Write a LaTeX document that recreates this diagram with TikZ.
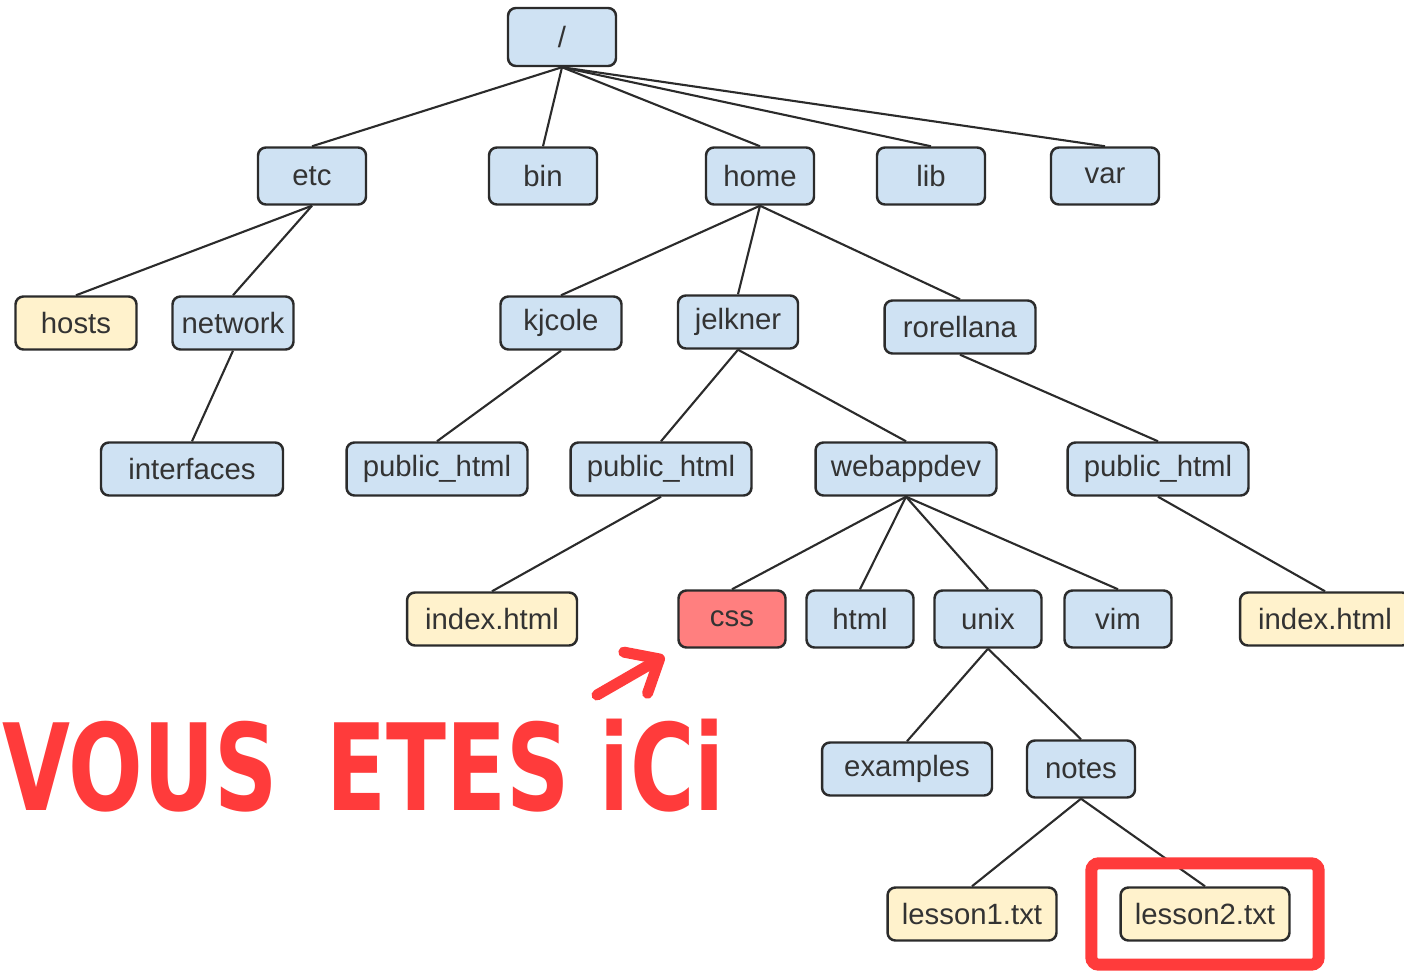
\documentclass[tikz,border=0pt]{standalone}
\usepackage{fontspec}
\setmainfont{Liberation Sans}
\newfontfamily\herefont[FakeStretch=0.73]{DejaVu Sans}
\usetikzlibrary{arrows.meta}
\usetikzlibrary{fit}
\definecolor{folderblue}{HTML}{CFE2F3}
\definecolor{fileyellow}{HTML}{FFF2CC}
\definecolor{cssred}{HTML}{FF7F7F}
\definecolor{herered}{HTML}{FF3B3B}
\definecolor{boxline}{HTML}{2B2B2B}
\tikzset{box/.style={draw=boxline, line width=1.4pt, rounded corners=4.5pt,
    minimum height=1.06cm, inner sep=0pt, text=black!80,
    font=\fontsize{16.7}{20}\selectfont}}
\tikzset{folder/.style={box, fill=folderblue}}
\tikzset{file/.style={box, fill=fileyellow}}
\tikzset{link/.style={draw=boxline, line width=1.2pt}}
\tikzset{herearrow/.style={draw=herered, line width=0.22cm, line cap=round,
    shorten >=0.3cm, -{Straight Barb[length=0.55cm,width=0.95cm,round]}}}
\tikzset{herebox/.style={draw=herered, line width=0.24cm, rounded corners=0.15cm,
    inner xsep=0.56cm, inner ysep=0.46cm}}

\begin{document}
\begin{tikzpicture}[x=0.02cm,y=-0.02cm]
        \useasboundingbox (0,0) rectangle (1404,977);

        \node[folder, minimum width=2.16cm, minimum height=1.16cm] (root) at (562,37) {/};

        \node[folder, minimum width=2.16cm, minimum height=1.14cm] (etc) at (312,176) {etc};
        \node[folder, minimum width=2.16cm, minimum height=1.14cm] (bin) at (543,176) {bin};
        \node[folder, minimum width=2.16cm, minimum height=1.14cm] (home) at (760,176) {home};
        \node[folder, minimum width=2.16cm, minimum height=1.14cm] (lib) at (931,176) {lib};
        \node[folder, minimum width=2.16cm, minimum height=1.14cm] (var) at (1105,176) {var};

        \node[file, minimum width=2.42cm] (hosts) at (76,323) {hosts};
        \node[folder, minimum width=2.42cm] (network) at (233,323) {network};
        \node[folder, minimum width=2.42cm] (kjcole) at (561,323) {kjcole};
        \node[folder, minimum width=2.40cm] (jelkner) at (738,322) {jelkner};
        \node[folder, minimum width=3.02cm] (rorellana) at (960,327) {rorellana};

        \node[folder, minimum width=3.64cm] (interfaces) at (192,469) {interfaces};
        \node[folder, minimum width=3.62cm] (kjpub) at (437,469) {public\_html};
        \node[folder, minimum width=3.62cm] (jepub) at (661,469) {public\_html};
        \node[folder, minimum width=3.62cm] (webappdev) at (906,469) {webappdev};
        \node[folder, minimum width=3.62cm] (ropub) at (1158,469) {public\_html};

        \node[file, minimum width=3.40cm] (jeindex) at (492,619) {index.html};
        \node[box, fill=cssred, minimum width=2.14cm, minimum height=1.14cm] (css) at (732,619) {css};
        \node[folder, minimum width=2.14cm, minimum height=1.14cm] (html) at (860,619) {html};
        \node[folder, minimum width=2.14cm, minimum height=1.14cm] (unix) at (988,619) {unix};
        \node[folder, minimum width=2.14cm, minimum height=1.14cm] (vim) at (1118,619) {vim};
        \node[file, minimum width=3.40cm] (roindex) at (1325,619) {index.html};

        \node[folder, minimum width=3.40cm] (examples) at (907,769) {examples};
        \node[folder, minimum width=2.16cm, minimum height=1.14cm] (notes) at (1081,769) {notes};

        \node[file, minimum width=3.38cm] (lesson1) at (972,914) {lesson1.txt};
        \node[file, minimum width=3.38cm] (lesson2) at (1205,914) {lesson2.txt};

        \foreach \kid in {etc,bin,home,lib,var}
            \draw[link] (root.south) -- (\kid.north);
        \foreach \kid in {hosts,network}
            \draw[link] (etc.south) -- (\kid.north);
        \foreach \kid in {kjcole,jelkner,rorellana}
            \draw[link] (home.south) -- (\kid.north);
        \draw[link] (network.south) -- (interfaces.north);
        \draw[link] (kjcole.south) -- (kjpub.north);
        \draw[link] (jelkner.south) -- (jepub.north);
        \draw[link] (jelkner.south) -- (webappdev.north);
        \draw[link] (rorellana.south) -- (ropub.north);
        \draw[link] (jepub.south) -- (jeindex.north);
        \draw[link] (ropub.south) -- (roindex.north);
        \foreach \kid in {css,html,unix,vim}
            \draw[link] (webappdev.south) -- (\kid.north);
        \foreach \kid in {examples,notes}
            \draw[link] (unix.south) -- (\kid.north);
        \foreach \kid in {lesson1,lesson2}
            \draw[link] (notes.south) -- (\kid.north);

        \node[herebox, fit=(lesson2)] (frame) {};

        \coordinate (arrowtail) at (597,695);
        \draw[herearrow] (arrowtail) -- (css.south west);

        \node[anchor=base west, inner sep=0pt, text=herered,
            font=\herefont\bfseries\fontsize{68.5}{70}\selectfont] (here) at (2,810)
            {VOUS\hspace{0.4em}ETES iCi};
    \end{tikzpicture}
\end{document}
